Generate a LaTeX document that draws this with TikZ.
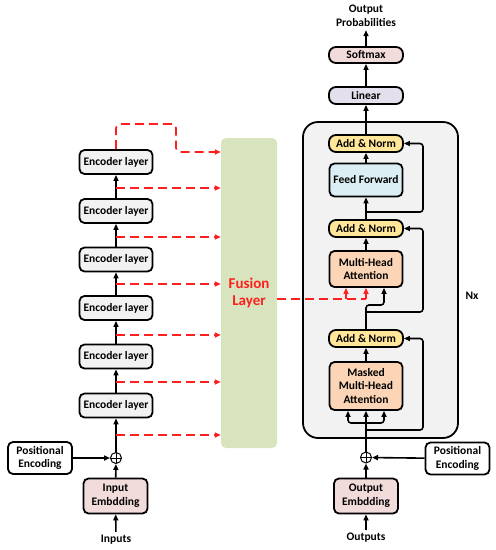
\documentclass[tikz,border=0pt]{standalone}
\usepackage{fontspec}
\setmainfont{Carlito}
\usetikzlibrary{arrows.meta}

\definecolor{encfill}{HTML}{F2F2F2}
\definecolor{embfill}{HTML}{F2DCDB}
\definecolor{linfill}{HTML}{E4DFEC}
\definecolor{addfill}{HTML}{FFE699}
\definecolor{fffill}{HTML}{DAEEF3}
\definecolor{attfill}{HTML}{FBD5B5}
\definecolor{fusfill}{HTML}{D7E4BD}
\definecolor{fusred}{HTML}{FF1F1F}

\tikzset{
  every node/.style={font=\bfseries\fontsize{11.5}{13.7}\selectfont, align=center},
  box/.style={draw, line width=1.8pt, rounded corners=5pt, inner sep=0pt},
  enc/.style={box, fill=encfill, minimum width=73pt, minimum height=24pt},
  emb/.style={box, fill=embfill, minimum width=64pt, minimum height=35pt},
  posenc/.style={box, fill=white, minimum width=64pt, minimum height=32pt},
  addn/.style={box, fill=addfill, rounded corners=7pt, minimum width=74pt, minimum height=17pt},
  sumnode/.style={circle, draw, line width=1pt, minimum size=11pt, inner sep=0pt,
    path picture={\draw[line width=1pt] (path picture bounding box.north) -- (path picture bounding box.south)
      (path picture bounding box.west) -- (path picture bounding box.east);}},
  arr/.style={line width=1.6pt, -{Triangle[length=6pt,width=5pt]}},
  fuse/.style={line width=1.6pt, fusred, dash pattern=on 9pt off 5pt},
  fusearr/.style={fuse, -{Triangle[length=6pt,width=5pt]}},
}

\begin{document}
\begin{tikzpicture}[x=1pt, y=-1pt]
  \useasboundingbox (0,0) rectangle (496,550);

  % encoder side
  \node[enc] (e1) at (116,162) {Encoder layer};
  \node[enc] (e2) at (116,211) {Encoder layer};
  \node[enc] (e3) at (116,259.5) {Encoder layer};
  \node[enc] (e4) at (116,308) {Encoder layer};
  \node[enc] (e5) at (116,356.5) {Encoder layer};
  \node[enc] (e6) at (116,405.5) {Encoder layer};
  \node[sumnode] (p1) at (116,458) {};
  \node[posenc] (pe1) at (40,458) {Positional\\Encoding};
  \node[emb] (ie) at (115.5,496) {Input\\Embdding};
  \node (inps) at (116,540) {Inputs};

  \node[fill=fusfill, rounded corners=5pt, minimum width=56pt, minimum height=310pt,
        text=fusred, font=\bfseries\fontsize{15}{17}\selectfont] (fus) at (249,293) {Fusion\\Layer};

  \draw[arr] (inps) -- (ie);
  \draw[arr] (ie) -- (p1);
  \draw[arr] (pe1) -- (p1);
  \draw[arr] (p1) -- (e6);
  \draw[arr] (e6) -- (e5);
  \draw[arr] (e5) -- (e4);
  \draw[arr] (e4) -- (e3);
  \draw[arr] (e3) -- (e2);
  \draw[arr] (e2) -- (e1);

  \coordinate (t1) at (176,124);
  \coordinate (t2) at (176,152);
  \draw[fusearr, rounded corners=4pt] (e1.north) |- (t1) -- (t2) -- (t2 -| fus.west);
  \foreach \y in {188,237,284,335,382,435}
    \draw[fusearr] (116,\y) -- (fus.west |- 0,\y);

  % decoder side
  \node[box, fill=encfill, rounded corners=15pt, minimum width=155pt, minimum height=316pt] (dec) at (380.5,280) {};
  \node (nx) at (472,296) {Nx};

  \node[addn] (an1) at (366,143.5) {Add \& Norm};
  \node[box, fill=fffill, minimum width=73pt, minimum height=33pt] (ff) at (366,180) {Feed Forward};
  \node[addn] (an2) at (366,228.5) {Add \& Norm};
  \node[box, fill=attfill, minimum width=73pt, minimum height=36pt] (mha) at (366,269) {Multi-Head\\Attention};
  \node[addn] (an3) at (366,338.5) {Add \& Norm};
  \node[box, fill=attfill, minimum width=73pt, minimum height=48pt] (mmha) at (366,386) {Masked\\Multi-Head\\Attention};
  \node[box, fill=linfill, rounded corners=7pt, minimum width=74pt, minimum height=17pt] (lin) at (366,95.5) {Linear};
  \node[box, fill=embfill, rounded corners=7pt, minimum width=74pt, minimum height=16pt] (sm) at (366,55) {Softmax};
  \node (outp) at (366,16) {Output\\Probabilities};

  \node[sumnode] (p2) at (366,457.5) {};
  \node[posenc] (pe2) at (457.5,458.5) {Positional\\Encoding};
  \node[emb] (oe) at (366,496) {Output\\Embdding};
  \node (outs) at (366,538) {Outputs};

  \draw[arr] (outs) -- (oe);
  \draw[arr] (oe) -- (p2);
  \draw[arr] (pe2) -- (p2);

  \coordinate (b0) at (366,423);
  \coordinate (rx) at (423,0);
  \draw[line width=1.6pt] (p2) -- (b0);
  \draw[arr] (b0) -- (mmha.south);
  \draw[arr, rounded corners=3pt] (b0) -| ([xshift=-18pt]mmha.south);
  \draw[arr, rounded corners=3pt] (b0) -| ([xshift=18pt]mmha.south);
  \coordinate (r3) at (366,430);
  \draw[arr, rounded corners=3pt] (r3) -| (rx |- an3.east) -- (an3.east);

  \draw[arr] (mmha) -- (an3);
  \coordinate (k1) at (366,305);
  \draw[arr, rounded corners=3pt] (an3.north) -- (k1) -| ([xshift=18pt]mha.south);
  \coordinate (r2) at (366,312);
  \draw[arr, rounded corners=3pt] (r2) -| (rx |- an2.east) -- (an2.east);

  \draw[arr] (mha) -- (an2);
  \draw[arr] (an2) -- (ff);
  \coordinate (r1) at (366,212);
  \draw[arr, rounded corners=3pt] (r1) -| (rx |- an1.east) -- (an1.east);
  \draw[arr] (ff) -- (an1);
  \draw[arr] (an1) -- (lin);
  \draw[arr] (lin) -- (sm);
  \draw[arr] (sm) -- (outp);

  % fusion into decoder
  \coordinate (m1) at (346,299);
  \coordinate (m2) at (366,299);
  \draw[fuse] (fus.east |- m1) -- (m2);
  \draw[fusearr, solid] (m1) -- (m1 |- mha.south);
  \draw[fusearr, solid] (m2) -- (mha.south);
\end{tikzpicture}
\end{document}
